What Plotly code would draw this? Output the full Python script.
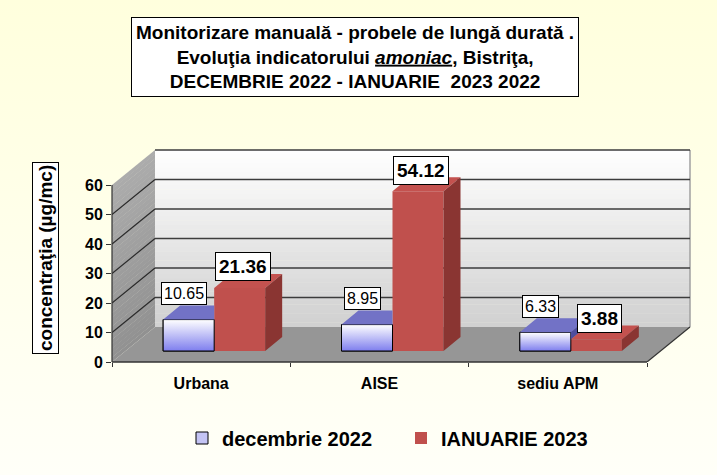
import base64
import plotly.graph_objects as go

# ---------------- data ----------------
categories = ["Urbana", "AISE", "sediu APM"]
dec_2022 = [10.65, 8.95, 6.33]
ian_2023 = [21.36, 54.12, 3.88]
series_names = ["decembrie 2022", "IANUARIE 2023"]
y_ticks = [0, 10, 20, 30, 40, 50, 60]
title_lines = [
    "Monitorizare manuală - probele de lungă durată .",
    "Evoluţia indicatorului <i><u>amoniac</u></i>, Bistriţa,",
    "DECEMBRIE 2022 - IANUARIE  2023 2022",
]
y_title = "concentraţia (µg/mc)"

# ---------------- geometry (styling) ----------------
W, H = 717, 475
PL, PR, PT, PB = 112, 693, 147, 362        # plot area in px
PXC = 535 / 3                              # px per category
PXY = 177 / 60                             # px per unit
X0 = -0.5
NCAT = len(categories)
X1 = X0 + NCAT
XMAX = X0 + (PR - PL) / PXC
YMAX = (PB - PT) / PXY
DX, DY = 43 / PXC, 35 / PXY                # wall depth
FX, FY = 13 / PXC, 11 / PXY                # bar front offset
BDX, BDY = 17 / PXC, 14 / PXY              # bar depth
BW = 51 / PXC                              # bar width
YTOP = max(y_ticks)

BLUE_TOP = "#7272C6"
BLUE_SIDE = "#4E4E9E"
RED = "#C0504D"
RED_TOP = "#C4524F"
RED_SIDE = "#8A3532"


def px_x(p):
    return (p - PL) / (PR - PL)


def px_y(p):
    return (PB - p) / (PB - PT)


def lerp_gray(a, b, t):
    v = int(round(a + (b - a) * t))
    return f"rgb({v},{v},{v})"


def clip_above(poly, xa, ya, slope):
    """keep part of convex polygon where y >= ya + slope*(x-xa)"""
    def f(p):
        return p[1] - (ya + slope * (p[0] - xa))
    out = []
    n = len(poly)
    for k in range(n):
        p, q = poly[k], poly[(k + 1) % n]
        fp, fq = f(p), f(q)
        if fp >= 0:
            out.append(p)
        if (fp >= 0) != (fq >= 0):
            t = fp / (fp - fq)
            out.append((p[0] + t * (q[0] - p[0]), p[1] + t * (q[1] - p[1])))
    return out


def poly_xy(polys):
    xs, ys = [], []
    for poly in polys:
        if len(poly) < 3:
            continue
        for p in poly + [poly[0]]:
            xs.append(p[0])
            ys.append(p[1])
        xs.append(None)
        ys.append(None)
    return xs, ys


shapes = []
# back wall (vertical gradient made of bands)
NB = 40
for k in range(NB):
    y0 = DY + YTOP * k / NB
    y1 = DY + YTOP * (k + 1) / NB
    shapes.append(dict(type="rect", xref="x", yref="y", x0=X0 + DX, x1=X1 + DX,
                       y0=y0, y1=min(y1 + 0.15, DY + YTOP), layer="below",
                       line=dict(width=0), fillcolor=lerp_gray(208, 255, (k + 0.5) / NB)))
# left wall
for k in range(NB):
    h0 = YTOP * k / NB
    h1 = min(YTOP * (k + 1) / NB + 0.15, YTOP)
    shapes.append(dict(type="path", xref="x", yref="y", layer="below", line=dict(width=0),
                       path=f"M{X0},{h0} L{X0 + DX},{h0 + DY} L{X0 + DX},{h1 + DY} L{X0},{h1} Z",
                       fillcolor=lerp_gray(145, 172, (k + 0.5) / NB)))
# floor
shapes.append(dict(type="path", xref="x", yref="y", layer="below", line=dict(width=0),
                   path=f"M{X0},0 L{X1},0 L{X1 + DX},{DY} L{X0 + DX},{DY} Z",
                   fillcolor="#969696"))
# back wall right edge
shapes.append(dict(type="line", xref="x", yref="y", layer="below",
                   x0=X1 + DX, x1=X1 + DX, y0=DY, y1=DY + YTOP,
                   line=dict(color="#A0A0A0", width=1.5)))
# grid lines on back wall and left wall
for v in y_ticks[1:]:
    shapes.append(dict(type="line", xref="x", yref="y", layer="below",
                       x0=X0 + DX, x1=X1 + DX, y0=v + DY, y1=v + DY,
                       line=dict(color="#3C3C3C", width=1.6)))
for v in y_ticks[1:-1]:
    shapes.append(dict(type="line", xref="x", yref="y", layer="below",
                       x0=X0, x1=X0 + DX, y0=v, y1=v + DY,
                       line=dict(color="#2A2A2A", width=1.2)))
# floor edges and value axis line
shapes.append(dict(type="line", xref="x", yref="paper", x0=X0, x1=X1, y0=0, y1=0,
                   line=dict(color="#333333", width=1.5)))
shapes.append(dict(type="line", xref="x", yref="y", x0=X1, x1=X1 + DX, y0=0, y1=DY,
                   line=dict(color="#333333", width=1.2)))
shapes.append(dict(type="line", xref="paper", yref="y", x0=0, x1=0, y0=0, y1=YTOP,
                   line=dict(color="#333333", width=1.2)))

fig = go.Figure()
xpos = list(range(NCAT))
fig.add_trace(go.Bar(name=series_names[0], x=xpos, y=dec_2022, base=FY, width=BW,
                     offset=FX - BW, marker=dict(color="#C4C4F4", line=dict(color="black", width=1)),
                     hovertemplate="%{y}<extra>" + series_names[0] + "</extra>"))
fig.add_trace(go.Bar(name=series_names[1], x=xpos, y=ian_2023, base=FY, width=BW,
                     offset=FX, marker=dict(color=RED, line=dict(width=0)),
                     hovertemplate="%{y}<extra>" + series_names[1] + "</extra>"))

# blue front gradient faces
for i, v in enumerate(dec_2022):
    x0, x1 = i + FX - BW, i + FX
    fig.add_trace(go.Scatter(x=[x0, x1, x1, x0, x0], y=[FY, FY, FY + v, FY + v, FY],
                             mode="lines", fill="toself", line=dict(color="black", width=1),
                             fillgradient=dict(type="vertical", start=FY, stop=FY + v,
                                               colorscale=[[0, "#7E7EEE"], [1, "#FFFFFF"]]),
                             hoverinfo="skip", showlegend=False))

# blue top & side faces (clipped by the red bar next to it)
tops, sides = [], []
slope = BDY / BDX
for i, (vb, vr) in enumerate(zip(dec_2022, ian_2023)):
    x0, x1 = i + FX - BW, i + FX
    bt, rt = FY + vb, FY + vr
    tops.append([(x0, bt), (x1, bt), (x1, bt + BDY), (x0 + BDX, bt + BDY)])
    tops.append(clip_above([(x1, bt), (x1 + BDX, bt + BDY), (x1, bt + BDY)], x1, rt, slope))
    sides.append(clip_above([(x1, FY), (x1, bt), (x1 + BDX, bt + BDY), (x1 + BDX, FY + BDY)], x1, rt, slope))
xs, ys = poly_xy(tops)
fig.add_trace(go.Scatter(x=xs, y=ys, mode="lines", fill="toself", fillcolor=BLUE_TOP,
                         line=dict(width=0), hoverinfo="skip", showlegend=False))
xs, ys = poly_xy(sides)
if xs:
    fig.add_trace(go.Scatter(x=xs, y=ys, mode="lines", fill="toself", fillcolor=BLUE_SIDE,
                             line=dict(width=0), hoverinfo="skip", showlegend=False))

# red top & side faces
rtops, rsides = [], []
for i, vr in enumerate(ian_2023):
    x1, x2 = i + FX, i + FX + BW
    rt = FY + vr
    rtops.append([(x1, rt), (x2, rt), (x2 + BDX, rt + BDY), (x1 + BDX, rt + BDY)])
    rsides.append([(x2, FY), (x2, rt), (x2 + BDX, rt + BDY), (x2 + BDX, FY + BDY)])
xs, ys = poly_xy(rtops)
fig.add_trace(go.Scatter(x=xs, y=ys, mode="lines", fill="toself", fillcolor=RED_TOP,
                         line=dict(width=0), hoverinfo="skip", showlegend=False))
xs, ys = poly_xy(rsides)
fig.add_trace(go.Scatter(x=xs, y=ys, mode="lines", fill="toself", fillcolor=RED_SIDE,
                         line=dict(width=0), hoverinfo="skip", showlegend=False))

FONT = "Liberation Sans, Arial, sans-serif"
annotations = []
for i, (vb, vr) in enumerate(zip(dec_2022, ian_2023)):
    annotations.append(dict(x=i + FX - BW / 2, y=FY + vb, xref="x", yref="y", text=f"{vb:.2f}",
                            showarrow=False, xshift=-5, yshift=26,
                            font=dict(family=FONT, size=16, color="black"),
                            bgcolor="white", bordercolor="black", borderwidth=1, borderpad=2))
    annotations.append(dict(x=i + FX + BW / 2, y=FY + vr, xref="x", yref="y", text=f"<b>{vr:.2f}</b>",
                            showarrow=False, xshift=3, yshift=21,
                            font=dict(family=FONT, size=19, color="black"),
                            bgcolor="white", bordercolor="black", borderwidth=1, borderpad=3))
annotations.append(dict(x=px_x(355), y=px_y(57), xref="paper", yref="paper",
                        text="<b>" + "<br>".join(title_lines) + "</b>", showarrow=False,
                        xanchor="center", yanchor="middle", align="center",
                        font=dict(family=FONT, size=19, color="black"),
                        bgcolor="white", bordercolor="black", borderwidth=1, borderpad=4))
annotations.append(dict(x=px_x(45), y=px_y(258), xref="paper", yref="paper",
                        text="<b>" + y_title + "</b>", textangle=-90, showarrow=False,
                        xanchor="center", yanchor="middle",
                        font=dict(family=FONT, size=19, color="black"),
                        bgcolor="white", bordercolor="black", borderwidth=1, borderpad=2))

svg = ('<svg xmlns="http://www.w3.org/2000/svg" width="10" height="100" preserveAspectRatio="none">'
       '<defs><linearGradient id="g" x1="0" y1="0" x2="0" y2="1">'
       '<stop offset="0" stop-color="#FFFFDD"/><stop offset="1" stop-color="#FFFFF8"/>'
       '</linearGradient></defs><rect width="10" height="100" fill="url(#g)"/></svg>')
bg_src = "data:image/svg+xml;base64," + base64.b64encode(svg.encode()).decode()

fig.update_layout(
    width=W, height=H,
    margin=dict(l=PL, r=W - PR, t=PT, b=H - PB, pad=0, autoexpand=False),
    paper_bgcolor="#FFFFF0", plot_bgcolor="rgba(0,0,0,0)",
    barmode="overlay",
    font=dict(family=FONT, color="black"),
    shapes=shapes,
    annotations=annotations,
    images=[dict(source=bg_src, xref="paper", yref="paper", x=px_x(0), y=px_y(0),
                 sizex=W / (PR - PL), sizey=H / (PB - PT), sizing="stretch",
                 xanchor="left", yanchor="top", layer="below")],
    showlegend=True,
    legend=dict(orientation="h", x=px_x(182), y=px_y(438), xanchor="left", yanchor="middle",
                bgcolor="rgba(0,0,0,0)", font=dict(family=FONT, size=20, color="black", weight="bold"),
                entrywidth=174, entrywidthmode="pixels", traceorder="normal"),
    xaxis=dict(range=[X0, XMAX], tickvals=xpos, ticktext=categories, ticks="",
               showgrid=False, zeroline=False, showline=False, fixedrange=True, automargin=False,
               tickfont=dict(family=FONT, size=16, color="black", weight="bold"),
               ticklabelstandoff=10,
               minor=dict(tickvals=[X0 + k for k in range(NCAT + 1)], ticks="outside",
                          ticklen=4, tickcolor="#333333", showgrid=False)),
    yaxis=dict(range=[0, YMAX], tickvals=y_ticks, ticks="outside", ticklen=5, tickcolor="#333333",
               showgrid=False, zeroline=False, showline=False, fixedrange=True, automargin=False,
               tickfont=dict(family=FONT, size=16, color="black", weight="bold")),
)

fig.write_html("out.html", config={"displayModeBar": False},
               post_script="document.body.style.margin='0';")
